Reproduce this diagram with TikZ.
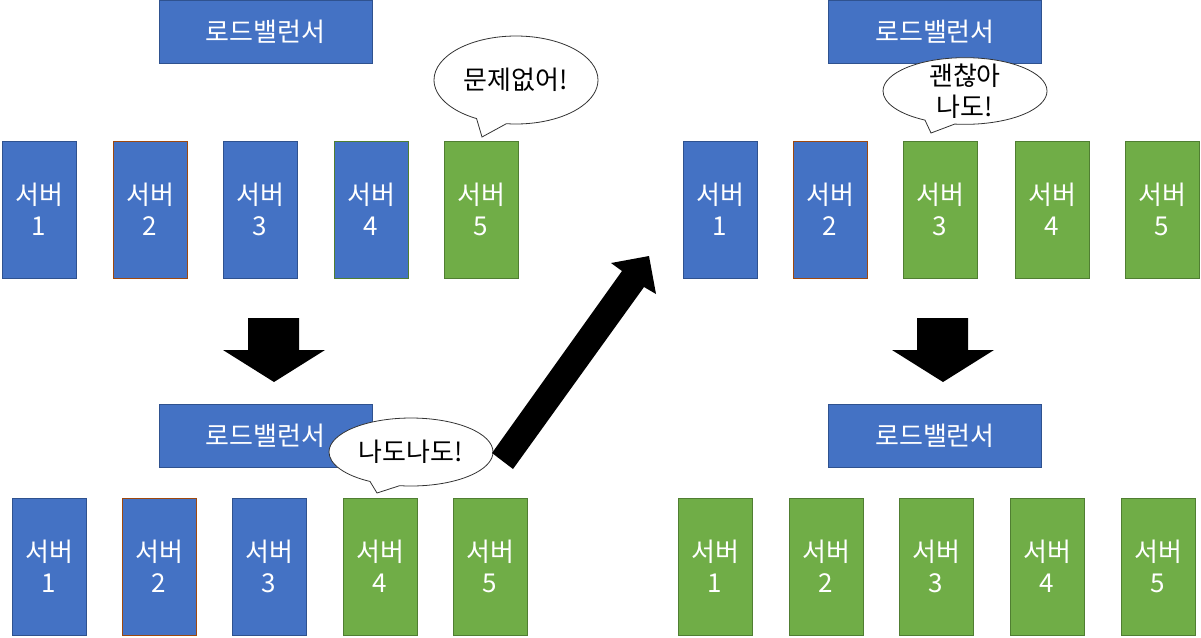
\documentclass[tikz,border=0pt]{standalone}
\usepackage{fontspec}
\setmainfont{Noto Sans CJK KR}
\usetikzlibrary{shapes.callouts, positioning}

\definecolor{lbblue}{HTML}{4472C4}
\definecolor{lbedge}{HTML}{2F528F}
\definecolor{okgreen}{HTML}{70AD47}
\definecolor{okedge}{HTML}{507E32}
\definecolor{badedge}{HTML}{9E480E}

\begin{document}
\begin{tikzpicture}[x=0.75pt, y=-0.75pt,
  box/.style={rectangle, draw, line width=0.75pt, text=white, align=center, inner sep=0pt, font=\fontsize{19.5}{23}\selectfont},
  lb/.style={box, fill=lbblue, draw=lbedge, minimum width=159.75pt, minimum height=47.25pt},
  srvblue/.style={box, fill=lbblue, draw=lbedge, minimum width=55.5pt, minimum height=102.75pt},
  srvbad/.style={srvblue, draw=badedge},
  srvmix/.style={srvblue, draw=okedge},
  srvgreen/.style={srvblue, fill=okgreen, draw=okedge},
  bubble/.style={ellipse callout, draw=black!80, fill=white, line width=0.6pt, inner sep=0pt, minimum width=123pt, callout pointer arc=22},
  talk/.style={font=\fontsize{19.5}{23}\selectfont, align=center, inner sep=0pt}]
\useasboundingbox (0,0) rectangle (1201,637);

% Step 1: only server 5 is up
\node[lb] (lbA) at (265.5,31.5) {로드밸런서};
\foreach \x/\n/\s in {39/1/srvblue, 150/2/srvbad, 260/3/srvblue, 371/4/srvmix, 481/5/srvgreen} {
    \node[\s] (a\n) at (\x,209.5) {서버\\\n};
}
\node[bubble, minimum height=66pt, callout absolute pointer={(482,137)}] (sayA) at (516,80) {};
\node[talk] (txtA) at (sayA.center) {문제없어!};

% Step 2: server 4 joins
\fill (248,318) -- (299,318) -- (299,350) -- (325,350) -- (274,382) -- (223,350) -- (248,350) -- cycle;
\node[lb] (lbB) at (265.5,436) {로드밸런서};
\foreach \x/\n/\s in {49/1/srvblue, 159/2/srvbad, 269/3/srvblue, 380/4/srvgreen, 490/5/srvgreen} {
    \node[\s] (b\n) at (\x,566.5) {서버\\\n};
}
\node[bubble, minimum height=51pt, callout absolute pointer={(377,493)}] (sayB) at (411,452) {};
\node[talk] (txtB) at (sayB.center) {나도나도!};

% Jump to the right half
\fill (492,453) -- (622,271) -- (611,263) -- (649,256) -- (656,294) -- (644,287) -- (513,469) -- cycle;

% Step 3: server 3 joins
\node[lb] (lbC) at (935,31.5) {로드밸런서};
\foreach \x/\n/\s in {720/1/srvblue, 830/2/srvbad, 940/3/srvgreen, 1052/4/srvgreen, 1162/5/srvgreen} {
    \node[\s] (c\n) at (\x,209.5) {서버\\\n};
}
\node[bubble, minimum height=50pt, callout absolute pointer={(931,133)}] (sayC) at (965,91) {};
\node[talk] (txtC) at (sayC.center) {괜찮아\\나도!};

% Step 4: all servers up
\fill (917,318) -- (968,318) -- (968,350) -- (994,350) -- (943,382) -- (892,350) -- (917,350) -- cycle;
\node[lb] (lbD) at (935,436) {로드밸런서};
\foreach \x/\n in {715/1, 826/2, 936/3, 1047/4, 1158/5} {
    \node[srvgreen] (d\n) at (\x,566.5) {서버\\\n};
}
\end{tikzpicture}
\end{document}
